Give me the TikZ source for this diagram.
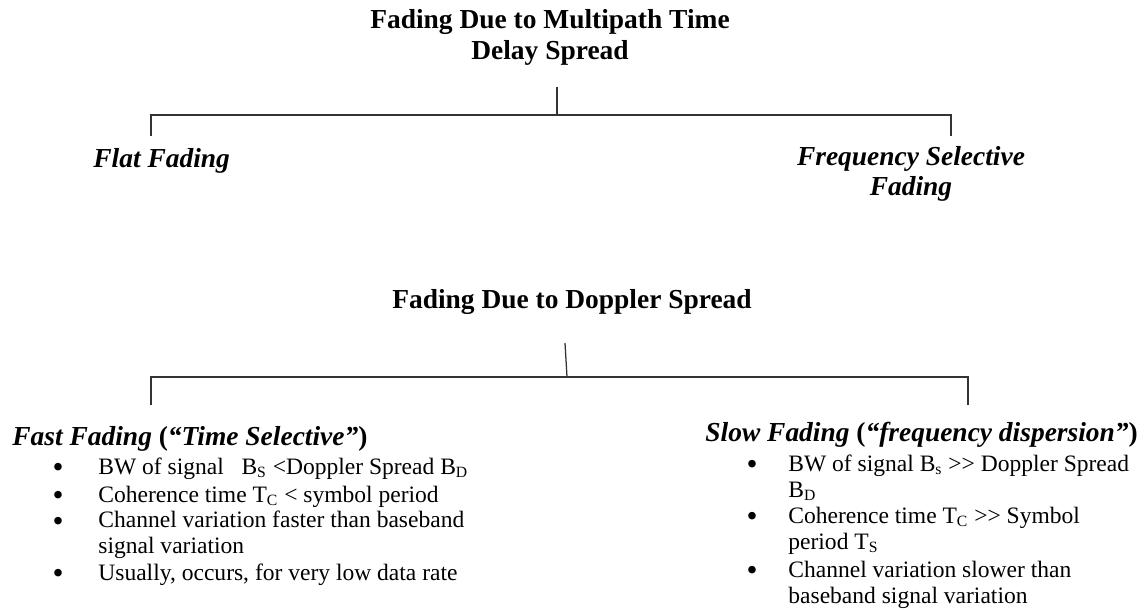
\documentclass[tikz,border=0pt]{standalone}
\usepackage{fontspec}
\setmainfont{Liberation Serif}
\usepackage{tikz}
\usetikzlibrary{positioning,calc}

\tikzset{
  head/.style = {font=\fontsize{14}{15.8}\selectfont\bfseries, inner sep=0pt, align=center, anchor=base},
  kind/.style = {font=\fontsize{14}{15.3}\selectfont\bfseries\itshape, inner sep=0pt, align=center},
  point/.style = {font=\fontsize{12}{13.2}\selectfont, inner sep=0pt, align=left, anchor=base west},
  bul/.style = {font=\fontsize{16}{16}\selectfont, inner sep=0pt, anchor=base, yshift=-1.6pt},
  branch/.style = {line width=0.65pt, draw=black!80},
}

\begin{document}
\begin{tikzpicture}[x=0.51pt, y=-0.51pt]
    \useasboundingbox (0,0) rectangle (1145,609);

    \node[head] (delay) at (550,59) {Fading Due to Multipath Time\\Delay Spread};
    \node[kind, anchor=base west] (flat) at (93,167) {Flat Fading};
    \node[kind, anchor=base] (freqsel) at (911,195) {Frequency Selective\\Fading};
    \coordinate (delaystem) at (557,87);
    \coordinate (delayjoin) at (557,115);
    \coordinate (flattip) at (151,136);
    \coordinate (freqtip) at (951,136);
    \draw[branch] (delaystem) -- (delayjoin);
    \draw[branch] (flattip) |- (delayjoin) -| (freqtip);

    \node[head] (doppler) at (572,308) {Fading Due to Doppler Spread};
    \coordinate (dopplerstem) at (565,343);
    \coordinate (dopplerjoin) at (567,377);
    \coordinate (fasttip) at (151,405);
    \coordinate (slowtip) at (968,405);
    \draw[branch] (dopplerstem) -- (dopplerjoin);
    \draw[branch] (fasttip) |- (dopplerjoin) -| (slowtip);

    \node[kind, anchor=base west] (fast) at (12,445) {Fast Fading \textup{(}“Time Selective”\textup{)}};
    \node[point] (fast1) at (98,474) {BW of signal\ \ \ B\textsubscript{S} <Doppler\ Spread B\textsubscript{D}};
    \node[point] (fast2) at (98,502) {Coherence time T\textsubscript{C} < symbol period};
    \node[point] (fast3) at (98,553) {Channel variation faster than baseband\\signal variation};
    \node[point] (fast4) at (98,580) {Usually, occurs,\ for very low\ data rate};
    \foreach \n/\y in {1/474,2/502,3/528,4/580}
      \node[bul] (fastdot\n) at (58,\y) {\textbullet};

    \node[kind, anchor=base west] (slow) at (705,441) {Slow Fading \textup{(}“frequency dispersion”\textup{)}};
    \node[point] (slow1) at (788,497) {BW of signal B\textsubscript{s} >{}> Doppler\ Spread\\B\textsubscript{D}};
    \node[point] (slow2) at (788,549) {Coherence time T\textsubscript{C} >{}> Symbol\\period T\textsubscript{S}};
    \node[point] (slow3) at (788,603) {Channel variation slower than\\baseband signal variation};
    \foreach \n/\y in {1/471,2/523,3/577}
      \node[bul] (slowdot\n) at (752,\y) {\textbullet};
\end{tikzpicture}
\end{document}
